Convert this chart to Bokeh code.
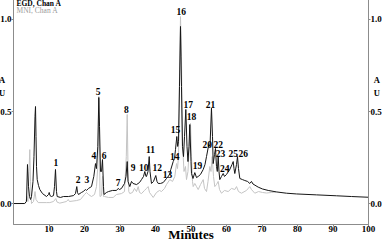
from bokeh.plotting import figure
from bokeh.models import LinearAxis, FixedTicker, Label, ColumnDataSource, Range1d
from bokeh.core.properties import value
from bokeh.embed import file_html
from bokeh.resources import INLINE

# EGD, Chan A (black trace)
egd_t = [0, 3.1, 3.66, 3.94, 4.23, 4.51, 4.79, 5.07, 5.49, 5.77, 6.06, 6.2, 6.34, 6.48, 6.68, 7.04, 7.41, 8.17, 9.3, 9.86,
         10.06, 10.28, 10.7, 11.27, 11.55, 11.83, 12.11, 12.31, 13.24, 14.08, 15.49, 16.9, 17.46, 17.83, 18.03, 18.31,
         19.15, 19.63, 20.28, 20.56, 21.13, 21.97, 22.62, 23.1, 23.38, 23.75, 24.03, 24.23, 24.51, 24.79, 25.07, 25.35,
         25.49, 26.2, 26.76, 27.89, 29.01, 29.49, 29.86, 30.42, 31.27, 31.69, 32.03, 32.25, 32.76, 33.24, 33.66, 34.65,
         35.49, 36.06, 36.62, 36.99, 37.32, 37.46, 37.89, 38.23, 38.45, 38.87, 39.44, 40.08, 40.42, 40.76, 41.41, 42.17,
         43.1, 43.58, 43.94, 44.31, 44.99, 45.35, 45.63, 46.0, 46.25, 46.48, 46.76, 47.04, 47.32, 47.61, 47.89, 48.17,
         48.54, 48.87, 49.15, 49.44, 49.66, 50.0, 50.14, 50.56, 51.07, 51.55, 52.03, 52.68, 53.44, 53.94, 54.37, 55.01,
         55.35, 55.77, 56.06, 56.25, 56.62, 56.9, 57.18, 57.41, 57.66, 57.89, 58.11, 58.59, 59.07, 59.44, 60.0, 60.93,
         61.55, 61.89, 62.11, 62.34, 62.82, 63.1, 63.38, 63.75, 64.51, 65.15, 65.92, 66.56, 67.04, 67.46, 68.93, 70.14,
         71.75, 74.08, 76.9, 79.72, 85.35, 90.99, 95.21, 100]
egd_au = [0, 0, 0.011, 0.212, 0.092, 0.038, 0.022, 0.038, 0.12, 0.255, 0.473, 0.527, 0.364, 0.201, 0.13, 0.098, 0.076,
          0.054, 0.038, 0.049, 0.06, 0.043, 0.038, 0.043, 0.092, 0.185, 0.065, 0.038, 0.033, 0.038, 0.038, 0.043, 0.054,
          0.092, 0.06, 0.049, 0.06, 0.065, 0.076, 0.071, 0.082, 0.092, 0.147, 0.217, 0.19, 0.31, 0.576, 0.418, 0.174,
          0.174, 0.239, 0.092, 0.049, 0.06, 0.065, 0.071, 0.071, 0.082, 0.076, 0.082, 0.109, 0.147, 0.228, 0.12, 0.092,
          0.12, 0.109, 0.103, 0.114, 0.13, 0.147, 0.174, 0.147, 0.147, 0.174, 0.255, 0.174, 0.109, 0.12, 0.152, 0.12,
          0.109, 0.109, 0.114, 0.136, 0.147, 0.158, 0.185, 0.228, 0.245, 0.293, 0.364, 0.31, 0.337, 0.636, 0.962, 0.636,
          0.31, 0.255, 0.364, 0.511, 0.31, 0.228, 0.31, 0.429, 0.228, 0.163, 0.136, 0.168, 0.141, 0.147, 0.158, 0.185,
          0.212, 0.255, 0.321, 0.31, 0.518, 0.364, 0.217, 0.266, 0.299, 0.201, 0.174, 0.255, 0.174, 0.13, 0.147, 0.163,
          0.147, 0.158, 0.185, 0.212, 0.228, 0.19, 0.163, 0.212, 0.255, 0.19, 0.136, 0.13, 0.125, 0.12, 0.109, 0.12,
          0.106, 0.089, 0.079, 0.071, 0.063, 0.056, 0.052, 0.047, 0.042, 0.038, 0.034]

# MNI, Chan A (grey trace)
mni_t = [0, 3.38, 3.8, 4.08, 4.37, 4.59, 4.79, 5.07, 5.63, 6.06, 6.34, 6.96, 9.3, 10.23, 11.27, 11.92, 12.25, 13.04,
         14.93, 15.41, 15.77, 17.75, 18.87, 20.0, 20.56, 21.13, 21.97, 22.82, 23.38, 23.75, 24.03, 24.23, 24.37, 24.79,
         25.07, 25.35, 25.63, 26.76, 28.08, 29.01, 30.42, 31.27, 31.77, 32.03, 32.25, 32.48, 32.76, 33.52, 34.08, 34.65,
         35.13, 35.49, 36.06, 36.9, 37.46, 37.94, 38.31, 39.35, 40.28, 41.13, 41.69, 42.54, 43.1, 44.03, 44.79, 45.44,
         45.92, 46.2, 46.48, 46.76, 47.04, 47.32, 47.55, 47.8, 48.03, 48.45, 48.73, 49.15, 49.58, 49.86, 50.14, 50.42,
         50.62, 51.07, 51.55, 52.03, 52.68, 53.44, 53.8, 54.37, 54.79, 55.3, 55.63, 55.97, 56.34, 56.7, 57.18, 57.66,
         58.03, 58.59, 59.44, 60.48, 61.41, 62.34, 62.82, 63.38, 64.23, 65.63, 66.56, 67.04, 67.97, 69.01, 70.14, 71.27,
         72.68, 74.08]
mni_au = [0, 0, 0.038, 0.011, 0.174, 0.293, 0.12, 0, 0.011, 0.065, 0.022, 0.005, 0.005, 0.005, 0.011, 0.027, 0.008,
          0.002, 0.011, 0.022, 0.011, 0.016, 0.022, 0.049, 0.06, 0.049, 0.038, 0.049, 0.092, 0.201, 0.582, 0.31, 0.038,
          0.043, 0.147, 0.038, 0.038, 0.033, 0.033, 0.049, 0.054, 0.065, 0.255, 0.484, 0.201, 0.065, 0.054, 0.06, 0.082,
          0.065, 0.092, 0.06, 0.054, 0.071, 0.082, 0.092, 0.06, 0.033, 0.06, 0.071, 0.065, 0.082, 0.103, 0.13, 0.12,
          0.147, 0.217, 0.19, 0.255, 0.69, 1.016, 0.799, 0.31, 0.255, 0.174, 0.201, 0.13, 0.174, 0.337, 0.435, 0.255,
          0.12, 0.092, 0.109, 0.092, 0.076, 0.103, 0.13, 0.082, 0.065, 0.12, 0.201, 0.174, 0.255, 0.147, 0.092, 0.103,
          0.12, 0.076, 0.056, 0.071, 0.065, 0.082, 0.076, 0.092, 0.065, 0.056, 0.071, 0.092, 0.076, 0.056, 0.065, 0.06,
          0.057, 0.06, 0.063]

# Peak labels
peak_ids = [str(i) for i in range(1, 27)]
peak_t = [11.92, 18.23, 20.65, 22.62, 23.86, 25.55, 29.49, 31.83, 33.72, 36.7, 38.59, 40.48, 43.38, 45.44, 45.63,
          47.24, 49.21, 50.14, 51.83, 54.56, 55.49, 57.66, 58.31, 59.52, 61.89, 64.7]
peak_au = [0.224, 0.132, 0.132, 0.261, 0.609, 0.261, 0.116, 0.511, 0.196, 0.196, 0.293, 0.196, 0.158, 0.255, 0.404,
           1.043, 0.538, 0.473, 0.207, 0.322, 0.538, 0.322, 0.272, 0.19, 0.272, 0.272]

x_ticks = [10, 20, 30, 40, 50, 60, 70, 80, 90, 100]
y_ticks = [0.0, 0.5, 1.0]
y_tick_labels = {0.0: "0.0", 0.5: "0.5", 1.0: "1.0"}
x_title = "Minutes"
y_title = "A\nU\n\n\n\n"

SERIF = value("Liberation Serif")
AXIS_GREY = "#8c8c8c"

p = figure(width=387, height=250, x_range=Range1d(0, 100), y_range=Range1d(-0.114, 1.114),
           output_backend="svg", toolbar_location=None,
           min_border_left=17, min_border_right=15, min_border_top=2, min_border_bottom=22,
           margin=(-4, 0, -4, -4))
p.xgrid.visible = False
p.ygrid.visible = False
p.outline_line_color = AXIS_GREY
p.background_fill_color = "white"
p.border_fill_color = "white"

p.line(mni_t, mni_au, line_color="#c4c4c4", line_width=1)
p.line(egd_t, egd_au, line_color="#161616", line_width=1)

src = ColumnDataSource(dict(t=peak_t, au=peak_au, txt=peak_ids))
p.text(x="t", y="au", text="txt", source=src, text_font=SERIF, text_font_style="bold",
       text_font_size="9.5px", text_align="center", text_baseline="middle", text_color="black")

def style_axis(ax):
    ax.axis_line_color = AXIS_GREY
    ax.major_tick_line_color = AXIS_GREY
    ax.minor_tick_line_color = None
    ax.major_tick_in = 0
    ax.major_tick_out = 2
    ax.major_label_standoff = 0
    ax.major_label_text_font = "Liberation Serif"
    ax.major_label_text_font_style = "bold"
    ax.major_label_text_font_size = "9px"
    ax.major_label_text_color = "black"
    ax.axis_label_text_font = "Liberation Serif"
    ax.axis_label_text_font_style = "bold"
    ax.axis_label_text_color = "black"

xa = p.xaxis[0]
xa.ticker = FixedTicker(ticks=x_ticks)
style_axis(xa)
xa.major_label_standoff = -1
xa.axis_label = x_title
xa.axis_label_standoff = -8
xa.axis_label_text_font_size = "13px"
xa.axis_label_text_line_height = 0.7

def style_y_title(ax, standoff):
    ax.axis_label = y_title
    ax.axis_label_orientation = "horizontal"
    ax.axis_label_standoff = standoff
    ax.axis_label_text_font_size = "8.5px"
    ax.axis_label_text_line_height = 1.25

ya = p.yaxis[0]
ya.ticker = FixedTicker(ticks=y_ticks)
ya.major_label_overrides = y_tick_labels
style_axis(ya)
style_y_title(ya, -8)

yr = LinearAxis(ticker=FixedTicker(ticks=y_ticks), major_label_overrides=y_tick_labels)
style_axis(yr)
style_y_title(yr, -11)
p.add_layout(yr, "right")

def add_label(x, y, text, size, color="black", style="bold"):
    p.add_layout(Label(x=x, y=y, text=text, text_font="Liberation Serif", text_font_style=style,
                       text_font_size=size, text_color=color, text_align="left", text_baseline="middle"))

add_label(0.85, 1.088, "EGD, Chan A", "7.5px")
add_label(0.85, 1.047, "MNI, Chan A", "7.5px", color="#9a9a9a", style="normal")

open("out.html", "w").write(file_html(p, INLINE))
